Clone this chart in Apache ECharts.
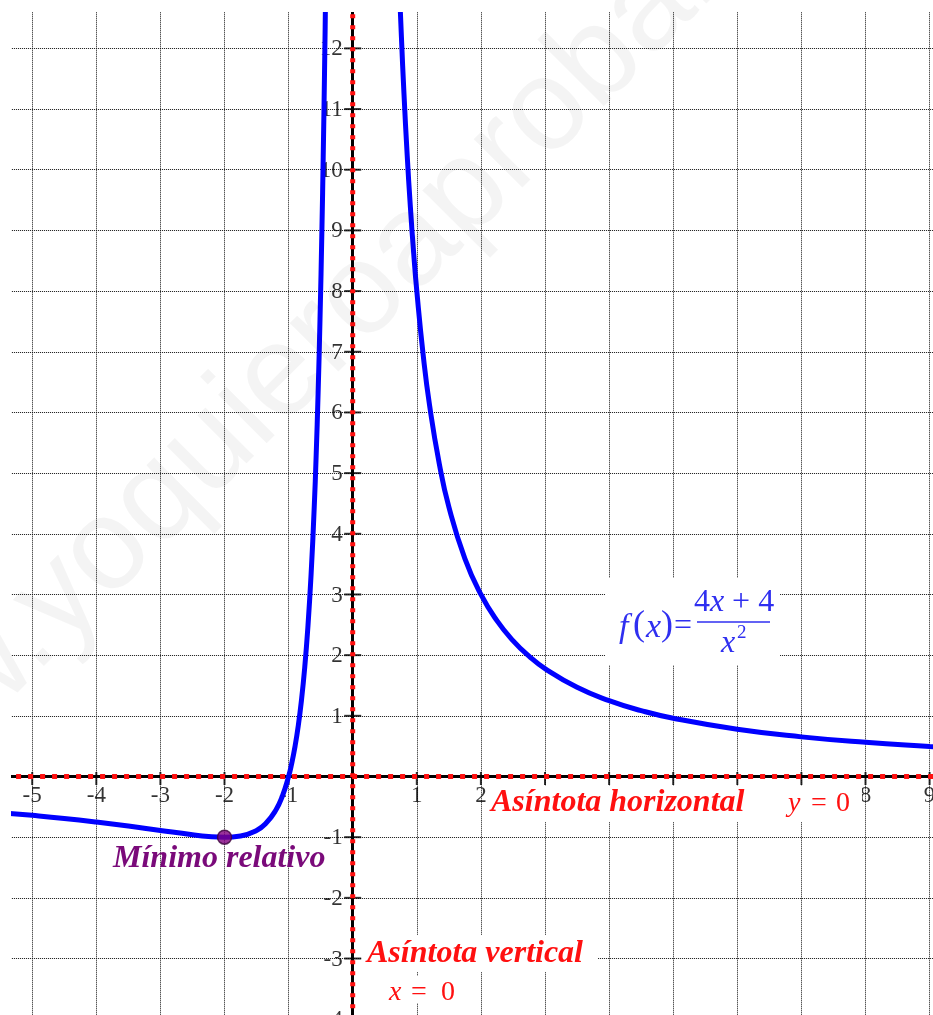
<!DOCTYPE html>
<html><head><meta charset="utf-8">
<script src="https://cdn.jsdelivr.net/npm/echarts@6/dist/echarts.min.js"></script>
<style>html,body{margin:0;padding:0;background:#fff}#c{width:933px;height:1015px}</style>
</head><body><div id="c"></div>
<script>
// ---- data ----
const leftBranchX = [-5.4, -5, -4.5, -4, -3.5, -3, -2.5, -2.25, -2, -1.75, -1.5, -1.35, -1.2, -1.1, -1, -0.95, -0.9, -0.85, -0.8, -0.75, -0.7, -0.65, -0.6, -0.57, -0.54, -0.51, -0.48, -0.46, -0.44, -0.42, -0.40];
const leftBranchY = [-0.604, -0.64, -0.691, -0.75, -0.816, -0.889, -0.96, -0.988, -1, -0.98, -0.889, -0.768, -0.556, -0.331, 0, 0.222, 0.494, 0.83, 1.25, 1.778, 2.449, 3.314, 4.444, 5.294, 6.31, 7.536, 9.028, 10.208, 11.57, 13.152, 15];
const rightBranchX = [0.68, 0.7, 0.73, 0.76, 0.8, 0.85, 0.9, 0.95, 1, 1.1, 1.2, 1.35, 1.5, 1.75, 2, 2.25, 2.5, 2.75, 3, 3.5, 4, 4.5, 5, 6, 7, 8, 9, 9.3];
const rightBranchY = [14.53, 13.878, 12.986, 12.188, 11.25, 10.242, 9.383, 8.643, 8, 6.942, 6.111, 5.158, 4.444, 3.592, 3, 2.568, 2.24, 1.983, 1.778, 1.469, 1.25, 1.086, 0.96, 0.778, 0.653, 0.5625, 0.494, 0.476];
const minimumPoint = [-2, -1];
const xTickValues = [-5, -4, -3, -2, -1, 1, 2, 3, 4, 5, 6, 7, 8, 9];
const yTickValues = [-4, -3, -2, -1, 1, 2, 3, 4, 5, 6, 7, 8, 9, 10, 11, 12];
const horizontalAsymptoteY = 0;
const verticalAsymptoteX = 0;
const xRange = [-6, 10];
const yRange = [-4, 13];

const zip = (a, b) => a.map((v, i) => [v, b[i]]);
const serif = '"Liberation Serif", "Times New Roman", serif';
const red = '#ff1010';
const blue = '#2f2ff0';
const purple = '#7a0a7a';
const labelColor = '#000';

const chart = echarts.init(document.getElementById('c'), null, { renderer: 'canvas' });

function txt(x, y, text, font, fill, align) {
  return { type: 'text', z: 85, x: x, y: y, silent: true,
    style: { text: text, font: font, fill: fill, align: align || 'left', textAlign: align || 'left', verticalAlign: 'middle', textVerticalAlign: 'middle' } };
}
function box(x, y, w, h) {
  return { type: 'rect', z: 80, silent: true, shape: { x: x, y: y, width: w, height: h }, style: { fill: '#ffffff' } };
}

const gridLine = { show: true, lineStyle: { color: '#111', width: 1, type: [1, 1] } };

const option = {
  animation: false,
  backgroundColor: '#ffffff',
  grid: { left: -31.9, top: -12.3, width: 1025.6, height: 1031.5, containLabel: false, outerBoundsMode: 'none' },
  xAxis: {
    type: 'value', min: xRange[0], max: xRange[1], interval: 1,
    axisLine: { show: true, onZero: true, lineStyle: { color: '#000', width: 3 } },
    axisTick: { show: false }, axisLabel: { show: false }, splitLine: gridLine
  },
  yAxis: {
    type: 'value', min: yRange[0], max: yRange[1], interval: 1,
    axisLine: { show: true, onZero: true, lineStyle: { color: '#000', width: 3 } },
    axisTick: { show: false }, axisLabel: { show: false }, splitLine: gridLine
  },
  series: [
    // tick labels
    { type: 'scatter', z: 1, silent: true, symbol: 'circle', symbolSize: 0,
      label: { show: true, position: 'bottom', distance: 8, formatter: p => String(p.value[0]),
        color: labelColor, fontFamily: serif, fontSize: 23 },
      data: xTickValues.map(v => [v, horizontalAsymptoteY]) },
    { type: 'scatter', z: 1, silent: true, symbol: 'circle', symbolSize: 0,
      label: { show: true, position: 'left', distance: 10, offset: [0, 1], formatter: p => String(p.value[1]),
        color: labelColor, fontFamily: serif, fontSize: 23 },
      data: yTickValues.map(v => [verticalAsymptoteX, v]) },
    // tick marks
    { type: 'scatter', z: 2, silent: true, symbol: 'rect', symbolSize: [2, 13], symbolOffset: [0, 2],
      itemStyle: { color: '#000' }, data: xTickValues.map(v => [v, horizontalAsymptoteY]) },
    { type: 'scatter', z: 2, silent: true, symbol: 'rect', symbolSize: [17, 2],
      itemStyle: { color: '#000' }, data: yTickValues.map(v => [verticalAsymptoteX, v]) },
    // asymptotes
    { type: 'line', z: 3, silent: true, symbol: 'none',
      lineStyle: { color: red, width: 5, type: [5, 7] },
      data: [[xRange[0], horizontalAsymptoteY], [xRange[1], horizontalAsymptoteY]] },
    { type: 'line', z: 3, silent: true, symbol: 'none',
      lineStyle: { color: red, width: 5, type: [4, 7] },
      data: [[verticalAsymptoteX, yRange[0]], [verticalAsymptoteX, yRange[1]]] },
    // f(x)
    { type: 'line', z: 4, silent: true, symbol: 'none', smooth: 0.5,
      lineStyle: { color: '#0000ff', width: 5 }, data: zip(leftBranchX, leftBranchY) },
    { type: 'line', z: 4, silent: true, symbol: 'none', smooth: 0.5,
      lineStyle: { color: '#0000ff', width: 5 }, data: zip(rightBranchX, rightBranchY) },
    // relative minimum
    { type: 'scatter', z: 5, silent: true, symbol: 'circle', symbolSize: 14,
      itemStyle: { color: '#800080', borderColor: '#3a003a', borderWidth: 1.5 }, data: [minimumPoint] }
  ],
  graphic: [
    { type: 'rect', z: 90, silent: true, shape: { x: 0, y: 0, width: 11, height: 1015 }, style: { fill: '#fff' } },
    { type: 'rect', z: 90, silent: true, shape: { x: 0, y: 0, width: 933, height: 12 }, style: { fill: '#fff' } },
    box(487, 786, 375, 36),
    box(362, 935, 236, 37),
    box(385, 976, 80, 27),
    box(605, 578, 175, 87),
    txt(491, 803, 'Asíntota horizontal', 'italic bold 32px ' + serif, red),
    txt(788, 804, 'y', 'italic 28px ' + serif, red),
    txt(811, 804, '=', '28px ' + serif, red),
    txt(836, 804, '0', '28px ' + serif, red),
    txt(113, 859, 'Mínimo relativo', 'italic bold 32px ' + serif, purple),
    txt(367, 954, 'Asíntota vertical', 'italic bold 32px ' + serif, red),
    txt(389, 993, 'x', 'italic 28px ' + serif, red),
    txt(411, 993, '=', '28px ' + serif, red),
    txt(441, 993, '0', '28px ' + serif, red),
    // formula f(x) = (4x+4)/x^2
    txt(619, 628, 'f', 'italic 34px ' + serif, blue),
    txt(633, 626, '(', '36px ' + serif, blue),
    txt(646, 628, 'x', 'italic 34px ' + serif, blue),
    txt(661, 626, ')', '36px ' + serif, blue),
    txt(674, 627, '=', '32px ' + serif, blue),
    { type: 'text', z: 85, x: 734, y: 603, silent: true,
      style: { text: '{r|4}{i|x}{r| + 4}', align: 'center', textAlign: 'center', verticalAlign: 'middle', textVerticalAlign: 'middle',
        rich: { i: { font: 'italic 32px ' + serif, fill: blue, color: blue }, r: { font: '32px ' + serif, fill: blue, color: blue } } } },
    { type: 'line', z: 85, silent: true, shape: { x1: 697, y1: 622, x2: 770, y2: 622 }, style: { stroke: blue, lineWidth: 1.5 } },
    txt(721, 644, 'x', 'italic 32px ' + serif, blue),
    txt(737, 633, '2', '19px ' + serif, blue),
    // watermark
    { type: 'text', z: 100, silent: true, x: -157, y: 870, rotation: Math.PI / 4,
      style: { text: 'www.yoquieroaprobar.es', x: 0, y: 27, font: '130px "Liberation Sans", Arial, sans-serif',
        fill: 'rgba(0,0,0,0.045)', align: 'left', textAlign: 'left', verticalAlign: 'bottom', textVerticalAlign: 'bottom' } }
  ]
};
chart.setOption(option);
</script>
</body></html>
